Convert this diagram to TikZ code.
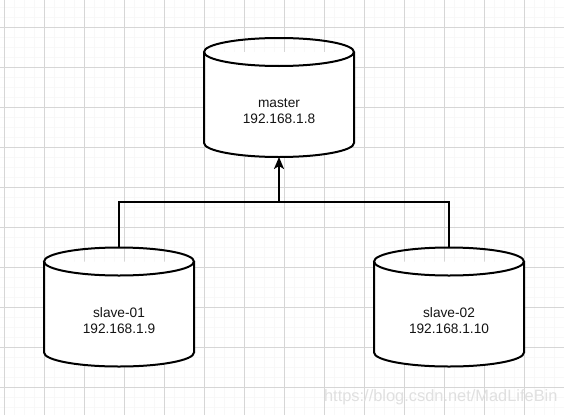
\documentclass[tikz,border=0pt]{standalone}
\usepackage{fontspec}
\setmainfont{Liberation Sans}
\usetikzlibrary{arrows.meta}
\definecolor{gridmajor}{HTML}{D6D6D6}
\definecolor{gridminor}{HTML}{F8F8F8}
\definecolor{textgray}{HTML}{141414}
\definecolor{markgray}{HTML}{E0E0E0}
\tikzset{
  dbcyl/.pic={
    \draw[line width=2pt, fill=white] (-75,-45.5) -- (-75,45.5)
      arc[start angle=180, end angle=0, x radius=75, y radius=14] -- (75,-45.5);
    \draw[line width=2pt] (0,-45.5) ellipse [x radius=75, y radius=14];
    \coordinate (-top) at (0,-59.5);
    \coordinate (-bottom) at (0,59.5);
  },
  dblabel/.style={align=center, text=textgray, font=\fontsize{13.7}{16}\selectfont},
  link/.style={line width=2pt}
}
\begin{document}
\begin{tikzpicture}[x=1pt,y=-1pt]
      \useasboundingbox (0,0) rectangle (564,415);
      \fill[white] (0,0) rectangle (564,415);
      % background grid
      \begin{scope}[shift={(4,7)}]
        \draw[gridminor, line width=0.4pt, step=10pt] (-4,-7) grid (560,408);
      \end{scope}
      \begin{scope}[shift={(4,27)}]
        \draw[gridmajor, line width=0.8pt, step=40pt] (-4,-27) grid (560,388);
      \end{scope}
      \pic (master) at (279,97.5) {dbcyl};
      \pic (slave1) at (119,307) {dbcyl};
      \pic (slave2) at (449,307) {dbcyl};
      \node[dblabel] (masterip) at (279,111) {master\\192.168.1.8};
      \node[dblabel] (slave1ip) at (119,321) {slave-01\\192.168.1.9};
      \node[dblabel] (slave2ip) at (449,321) {slave-02\\192.168.1.10};
      \coordinate (join) at (279,202);
      \draw[link] (slave1-top) |- (join) -| (slave2-top);
      \draw[link, -{Stealth[length=12pt,width=10pt,inset=3pt]}] (join) -- (master-bottom);
      \node[text=markgray, font=\fontsize{16.4}{18}\selectfont, anchor=east] (mark) at (561,397) {https://blog.csdn.net/MadLifeBin};
\end{tikzpicture}
\end{document}
